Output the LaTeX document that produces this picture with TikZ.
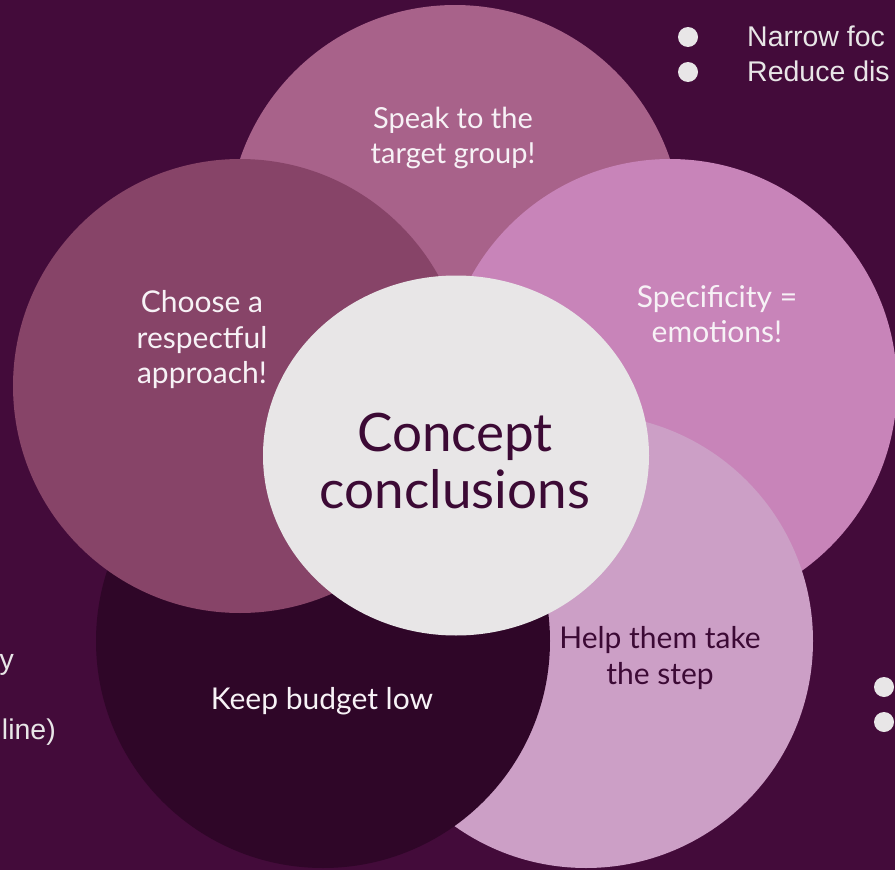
\documentclass[tikz,border=0pt]{standalone}
\usepackage{fontspec}
\setmainfont{Lato}
\newfontfamily\arialish{Liberation Sans}
\usetikzlibrary{shapes.geometric}
\definecolor{bgc}{HTML}{430B3A}
\definecolor{ctop}{HTML}{A8628A}
\definecolor{cleft}{HTML}{874468}
\definecolor{cright}{HTML}{C884B9}
\definecolor{cbr}{HTML}{CC9FC6}
\definecolor{cbl}{HTML}{2F0628}
\definecolor{ccen}{HTML}{E8E6E7}
\definecolor{tdark}{HTML}{3C0A35}
\definecolor{tlight}{HTML}{F7F2F6}
\tikzset{
  petal/.style={circle, minimum size=454pt, inner sep=0pt, draw=none},
  lbl/.style={align=center, font=\fontsize{30}{35.5}\selectfont, text=tlight, inner sep=0pt},
  sidetxt/.style={font=\arialish\fontsize{28.5}{35}\selectfont, text=ccen, inner sep=0pt},
  dot/.style={circle, fill=ccen, minimum size=20pt, inner sep=0pt}
}
\begin{document}
\begin{tikzpicture}[x=1pt,y=-1pt]
\fill[bgc] (0,0) rectangle (895,870);
\useasboundingbox (0,0) rectangle (895,870);
\clip (0,0) rectangle (895,870);
% petals
\node[petal, fill=ctop]   (top)   at (455,232) {};
\node[petal, fill=cright] (right) at (670,386) {};
\node[petal, fill=cbr]    (br)    at (586,641) {};
\node[petal, fill=cbl]    (bl)    at (323,641) {};
\node[petal, fill=cleft]  (left)  at (240,386) {};
\node[ellipse, fill=ccen, minimum width=386pt, minimum height=360pt, inner sep=0pt] (cen) at (456,455.5) {};
% labels
\node[lbl, font=\fontsize{29}{35.5}\selectfont] (ttop) at (453,138) {Speak to the\\target group!};
\node[lbl] (tleft) at (202,340) {Choose a\\respectful\\approach!};
\node[lbl] (tright) at (717,314) {Specificity =\\emotions!};
\node[lbl, text=tdark] (tbr) at (660,658) {Help them take\\the step};
\node[lbl] (tbl) at (322,701) {Keep budget low};
\node[align=center, font=\fontsize{53}{57}\selectfont, text=tdark, inner sep=0pt] (tcen) at (455,461) {Concept\\conclusions};
% side texts
\node[dot] (d1) at (688,37) {};
\node[dot] (d2) at (688,72) {};
\node[sidetxt, anchor=mid west] (s1) at (747,44) {Narrow foc};
\node[sidetxt, anchor=mid west] (s2) at (747,79) {Reduce dis};
\node[sidetxt, anchor=mid east] (s3) at (14,667) {y};
\node[sidetxt, anchor=mid east] (s4) at (56,737) {line)};
\node[dot] (d3) at (884,687) {};
\node[dot] (d4) at (884,722) {};
\end{tikzpicture}
\end{document}
